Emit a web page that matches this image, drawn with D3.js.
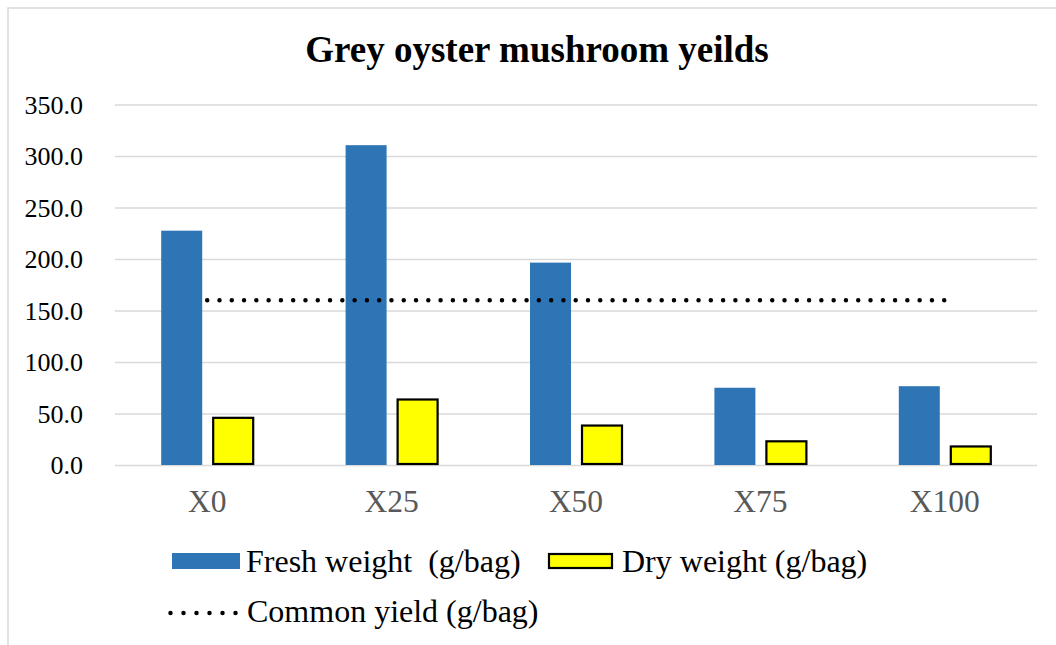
<!DOCTYPE html>
<html><head><meta charset="utf-8">
<script src="https://cdn.jsdelivr.net/npm/d3@7/dist/d3.min.js"></script>
<style>body{margin:0;background:#fff}svg{display:block}text{white-space:pre}</style>
</head><body>
<svg id="chart" width="1056" height="645"></svg>
<script>
const categories = ["X0","X25","X50","X75","X100"];
const freshWeight = [227.5, 310.5, 196.5, 75.0, 76.5];
const dryWeight = [45.8, 63.6, 38.3, 23.0, 18.0];
const commonYield = [160, 160, 160, 160, 160];
const yTicks = [0, 50, 100, 150, 200, 250, 300, 350];
const seriesNames = ["Fresh weight  (g/bag)", "Dry weight (g/bag)", "Common yield (g/bag)"];
const titleText = "Grey oyster mushroom yeilds";

const svg = d3.select("#chart");
const serif = "'Liberation Serif','Times New Roman',serif";
const m = {left:115, right:1037, top:104.5, bottom:465};

svg.append("rect").attr("x",8).attr("y",8).attr("width",1200).attr("height",800)
  .attr("fill","#fff").attr("stroke","#d9d9d9").attr("stroke-width",1.5);

const x = d3.scaleBand().domain(categories).range([m.left, m.right]);
const y = d3.scaleLinear().domain([0, 350]).range([m.bottom, m.top]);

// gridlines
const yAxis = d3.axisLeft(y).tickValues(yTicks).tickFormat(d3.format(".1f"))
  .tickSize(-(m.right - m.left)).tickPadding(32);
const ga = svg.append("g").attr("transform",`translate(${m.left},0)`).call(yAxis);
ga.select(".domain").remove();
ga.selectAll(".tick line").attr("stroke","#d9d9d9").attr("stroke-width",1.5);
ga.selectAll(".tick text").attr("font-family",serif).attr("font-size",26).attr("fill","#000").attr("dy","0.33em");

// bars
const bw = 41, gap = 5;
svg.append("g").selectAll("rect").data(categories).join("rect")
  .attr("x", d => x(d) + x.bandwidth()/2 - gap - bw)
  .attr("y", (d,i) => y(freshWeight[i]))
  .attr("width", bw)
  .attr("height", (d,i) => y(0) - y(freshWeight[i]))
  .attr("fill","#2e75b6");
svg.append("g").selectAll("rect").data(categories).join("rect")
  .attr("x", d => x(d) + x.bandwidth()/2 + gap + 1)
  .attr("y", (d,i) => y(dryWeight[i]))
  .attr("width", bw - 1)
  .attr("height", (d,i) => y(0) - y(dryWeight[i]) - 1)
  .attr("fill","#ffff00").attr("stroke","#000").attr("stroke-width",2.2);

// common yield line
const cx = (d,i) => x(categories[i]) + x.bandwidth()/2;
const line = d3.line().x(cx).y(d => y(d));
const lineLen = cx(0, commonYield.length-1) - cx(0,0);
const nDots = Math.round(lineLen / 12.3);
svg.append("path").datum(commonYield).attr("d", line).attr("fill","none")
  .attr("stroke","#000").attr("stroke-width",4.5).attr("stroke-linecap","round")
  .attr("stroke-dasharray",`0 ${(lineLen / nDots) - 0.01}`);

// x labels
const xAxis = d3.axisBottom(x).tickSize(0).tickPadding(0);
const gx = svg.append("g").attr("transform",`translate(0,${m.bottom})`).call(xAxis);
gx.select(".domain").remove();
gx.selectAll(".tick text").attr("font-family",serif).attr("font-size",31.5).attr("fill","#595959")
  .attr("y",47).attr("dy",0);

// title
svg.append("text").attr("x",537).attr("y",62).attr("text-anchor","middle")
  .attr("font-family",serif).attr("font-weight","bold").attr("font-size",37).attr("fill","#000")
  .text(titleText);

// legend
const lg = svg.append("g");
lg.append("rect").attr("x",172).attr("y",553).attr("width",68).attr("height",16).attr("fill","#2e75b6");
lg.append("text").attr("x",246).attr("y",572).attr("font-family",serif).attr("font-size",32)
  .attr("xml:space","preserve").text(seriesNames[0]);
lg.append("rect").attr("x",549).attr("y",554).attr("width",63).attr("height",14).attr("fill","#ffff00")
  .attr("stroke","#000").attr("stroke-width",2.2);
lg.append("text").attr("x",622).attr("y",572).attr("font-family",serif).attr("font-size",32).text(seriesNames[1]);
lg.append("line").attr("x1",170.5).attr("x2",236).attr("y1",613).attr("y2",613)
  .attr("stroke","#000").attr("stroke-width",4.5).attr("stroke-linecap","round").attr("stroke-dasharray","0 13");
lg.append("text").attr("x",247).attr("y",622).attr("font-family",serif).attr("font-size",32).text(seriesNames[2]);
</script>
</body></html>
